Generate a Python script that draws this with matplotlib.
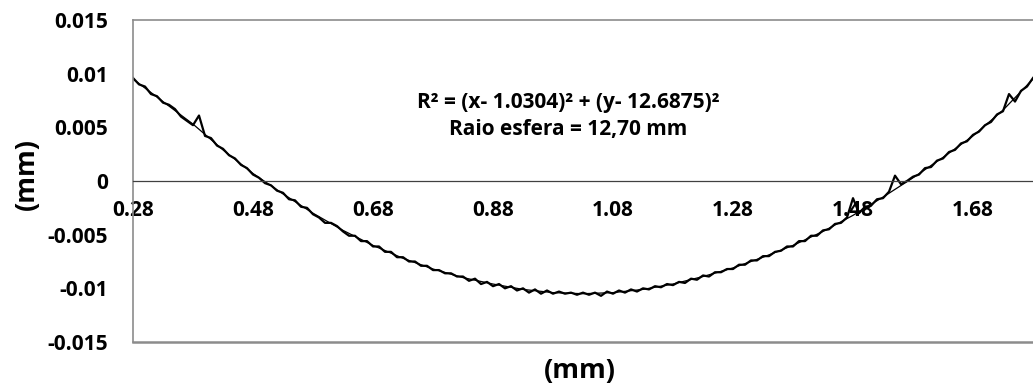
import numpy as np
import matplotlib
import matplotlib.pyplot as plt

matplotlib.use('Agg')

# fitted circle
fit_x = [0.28, 0.33, 0.38, 0.43, 0.48, 0.53, 0.58, 0.63, 0.68, 0.73, 0.78,
         0.83, 0.88, 0.93, 0.98, 1.03, 1.08, 1.13, 1.18, 1.23, 1.28, 1.33,
         1.38, 1.43, 1.48, 1.53, 1.58, 1.63, 1.68, 1.73, 1.78]
fit_y = [0.0095, 0.0074, 0.0053, 0.0029, 0.0007, -0.0012, -0.0030, -0.0046,
         -0.0060, -0.0072, -0.0082, -0.0090, -0.0096, -0.0101, -0.0104,
         -0.0105, -0.0104, -0.0101, -0.0096, -0.0089, -0.0081, -0.0071,
         -0.0060, -0.0047, -0.0032, -0.0015, 0.0003, 0.0022, 0.0042, 0.0066,
         0.0095]

# measured profile, one value every 0.01 mm from 0.28 to 1.78
profile_y = [
    0.0096, 0.0090, 0.0088, 0.0081, 0.0079, 0.0073, 0.0071, 0.0067, 0.0060, 0.0056,
    0.0052, 0.0061, 0.0042, 0.0040, 0.0033, 0.0030, 0.0024, 0.0021, 0.0015, 0.0012,
    0.0006, 0.0003, -0.0002, -0.0004, -0.0009, -0.0011, -0.0017, -0.0018, -0.0024, -0.0025,
    -0.0031, -0.0034, -0.0039, -0.0039, -0.0042, -0.0047, -0.0051, -0.0051, -0.0056, -0.0056,
    -0.0061, -0.0061, -0.0066, -0.0066, -0.0071, -0.0071, -0.0075, -0.0075, -0.0079, -0.0079,
    -0.0083, -0.0083, -0.0086, -0.0086, -0.0089, -0.0089, -0.0093, -0.0091, -0.0096, -0.0094,
    -0.0098, -0.0096, -0.0100, -0.0098, -0.0102, -0.0100, -0.0104, -0.0101, -0.0105, -0.0102,
    -0.0105, -0.0103, -0.0105, -0.0104, -0.0106, -0.0104, -0.0106, -0.0104, -0.0107, -0.0103,
    -0.0105, -0.0102, -0.0104, -0.0101, -0.0103, -0.0100, -0.0101, -0.0098, -0.0099, -0.0096,
    -0.0097, -0.0094, -0.0095, -0.0091, -0.0092, -0.0088, -0.0089, -0.0085, -0.0085, -0.0082,
    -0.0082, -0.0078, -0.0078, -0.0074, -0.0074, -0.0070, -0.0070, -0.0066, -0.0065, -0.0061,
    -0.0061, -0.0056, -0.0056, -0.0051, -0.0051, -0.0046, -0.0045, -0.0040, -0.0039, -0.0034,
    -0.0016, -0.0030, -0.0024, -0.0023, -0.0017, -0.0016, -0.0010, 0.0005, -0.0003, 0.0000,
    0.0004, 0.0006, 0.0012, 0.0013, 0.0019, 0.0021, 0.0027, 0.0029, 0.0035, 0.0037,
    0.0043, 0.0046, 0.0052, 0.0055, 0.0062, 0.0065, 0.0081, 0.0074, 0.0084, 0.0088,
    0.0096]
profile_x = np.linspace(0.28, 1.78, len(profile_y))

x_ticks = [0.28, 0.48, 0.68, 0.88, 1.08, 1.28, 1.48, 1.68]
y_ticks = [-0.015, -0.01, -0.005, 0, 0.005, 0.01, 0.015]
y_labels = ['-0.015', '-0.01', '-0.005', '0', '0.005', '0.01', '0.015']

eq_text = 'R² = (x- 1.0304)² + (y- 12.6875)²\nRaio esfera = 12,70 mm'

plt.rcParams['font.family'] = ['Open Sans', 'DejaVu Sans']
plt.rcParams['font.weight'] = 'bold'

fig = plt.figure(figsize=(10.33, 3.87), dpi=100)
ax = fig.add_axes([133 / 1033, 1 - 342 / 387, 1 - 133 / 1033, (342 - 20) / 387])

ax.plot(profile_x, profile_y, color='black', lw=1.6)
ax.plot(fit_x, fit_y, color='black', lw=0.9)

ax.set_xlim(0.28, 1.78)
ax.set_ylim(-0.015, 0.015)
ax.set_xticks(x_ticks)
ax.set_xticklabels([f'{v:.2f}' for v in x_ticks])
ax.set_yticks(y_ticks)
ax.set_yticklabels(y_labels)
ax.tick_params(axis='both', length=0, labelsize=15)
ax.tick_params(axis='y', pad=18)
ax.tick_params(axis='x', pad=14)
for lab in ax.get_xticklabels() + ax.get_yticklabels():
    lab.set_fontweight('bold')

# x axis runs through zero, frame drawn in grey
ax.spines['bottom'].set_position(('data', 0))
ax.spines['bottom'].set_color('#404040')
ax.spines['bottom'].set_linewidth(0.9)
ax.spines['right'].set_visible(False)
for s in ['left', 'top']:
    ax.spines[s].set_color('#8c8c8c')
    ax.spines[s].set_linewidth(1.2)
ax.axhline(-0.015, color='#8c8c8c', lw=1.8, clip_on=False)

fig.text(27 / 1033, 1 - 174 / 387, '(mm)', rotation=90, fontsize=19.5,
         fontweight='bold', ha='center', va='center')
fig.text(580 / 1033, 1 - 371 / 387, '(mm)', fontsize=19.5,
         fontweight='bold', ha='center', va='center')
fig.text(568 / 1033, 1 - 116 / 387, eq_text, fontsize=15, fontweight='bold',
         ha='center', va='center', linespacing=1.35)

fig.savefig('out.png', dpi=100)
